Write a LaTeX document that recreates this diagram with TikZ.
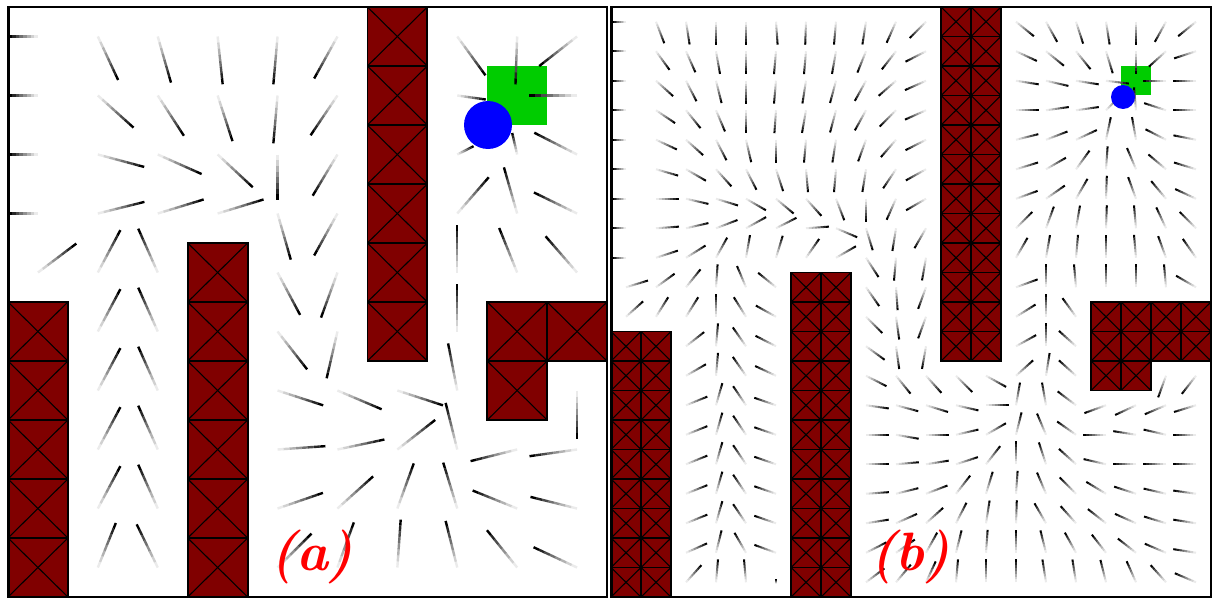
\documentclass[tikz,border=0pt]{standalone}
\definecolor{obsred}{RGB}{128,0,0}
\definecolor{goalgreen}{RGB}{0,204,0}
\definecolor{agentblue}{RGB}{0,0,255}
\definecolor{labelred}{RGB}{255,0,0}
\tikzset{
  obsx/.style={draw=black, line width=1.1pt},
  obsedge/.style={draw=black, line width=1.5pt},
  obsgroup/.style={draw=black, line width=1.8pt},
  panelframe/.style={draw=black, line width=2pt},
  goalbox/.style={fill=goalgreen},
  agentdot/.style={fill=agentblue},
  lab/.style={text=labelred, font=\fontsize{54}{54}\selectfont\bfseries\itshape, inner sep=0pt},
}
% gradient line: x, y, angle (math convention), length, width
\newcommand\gline[5]{%
  \pgfmathsetmacro\gdx{#4*cos(#3)/8}%
  \pgfmathsetmacro\gdy{-#4*sin(#3)/8}%
  \foreach \k in {1,...,8}{%
    \pgfmathtruncatemacro\gc{100*(\k/8)^1.2}%
    \draw[line width=#5, draw=black!\gc] ({#1+(\k-1)*\gdx},{#2+(\k-1)*\gdy}) -- ++(\gdx,\gdy);}}
% obstacle cell: x, y, w, h
\newcommand\obsbox[4]{%
  \fill[obsred] (#1,#2) rectangle ++(#3,#4);
  \draw[obsx] (#1,#2) -- ++(#3,#4);
  \draw[obsx] (#1,#2) ++(#3,0) -- ++(-#3,#4);
  \draw[obsedge] (#1,#2) rectangle ++(#3,#4);}
\begin{document}
\begin{tikzpicture}[x=1pt,y=-1pt]
\useasboundingbox (0,0) rectangle (1217,599);
\fill[white] (0,0) rectangle (1217,599);
% ---------------- panel (a) ----------------
\fill[goalbox] (487.2,66) rectangle (547.1,125);
\foreach \row [count=\j from 0] in {
 {180/0.62,-65/1,-74/1,-84/1,-95/1,-119/1,999/0,-54/1,-92/1,-142/1},
 {180/0.62,-42/1,-57/1,-72/1,-95/1,-124/1,999/0,-8/0.6,999/0,180/1},
 {180/0.62,-15/1,-24/1,-43/1,-90/0.95,-121/1,999/0,27/0.38,103/0.46,153/1},
 {180/0.62,14/1,17/1,17/1,-74/1,-119/1,999/0,49/1,106/1,154/1},
 {37/1,62/1,114/1,999/0,-62/1,-110/1,999/0,90/1,112/1,131/1},
 {999/0,62/1,114/1,999/0,-52/1,-103/1,999/0,90/1,999/0,999/0},
 {999/0,62/1,114/1,999/0,-18/1,-23/1,-18/1,101/1,999/0,-90/1},
 {999/0,62/1,114/1,999/0,4/1,12/1,38/1,104/1,-166/1,-172/1},
 {999/0,62/1,114/1,999/0,19/1,42/1,70/1,107/1,158/1,166/1},
 {999/0,68/1,116/1,999/0,45/1,70/1,86/1,104/1,129/1,155/1}} {
  \foreach \ang/\lf [count=\i from 0] in \row {
    \ifnum\ang<900
      \pgfmathsetmacro\cx{8+59.9*(\i+0.5)}%
      \pgfmathsetmacro\cy{7+59*(\j+0.5)}%
      \pgfmathsetmacro\ll{48*\lf}%
      \gline{\cx}{\cy}{\ang}{\ll}{2.4pt}%
    \fi
  }
}
\fill[agentdot] (488,125) circle (24);
% obstacles (a)
\foreach \j in {0,...,5}{\pgfmathsetmacro\yy{7+59*\j}\obsbox{367.4}{\yy}{59.9}{59}}
\foreach \j in {4,...,9}{\pgfmathsetmacro\yy{7+59*\j}\obsbox{187.7}{\yy}{59.9}{59}}
\foreach \j in {5,...,9}{\pgfmathsetmacro\yy{7+59*\j}\obsbox{8}{\yy}{59.9}{59}}
\obsbox{487.2}{302}{59.9}{59}
\obsbox{547.1}{302}{59.9}{59}
\obsbox{487.2}{361}{59.9}{59}
\draw[obsgroup] (367.4,7) rectangle (427.3,361);
\draw[obsgroup] (187.7,243) rectangle (247.6,597);
\draw[obsgroup] (8,302) rectangle (67.9,597);
\draw[obsgroup] (487.2,302) -- (607,302) -- (607,361) -- (547.1,361) -- (547.1,420) -- (487.2,420) -- cycle;
\draw[panelframe] (8,7) rectangle (607,597);
\draw[black, line width=3pt] (8.5,7) -- (8.5,597);
% ---------------- panel (b) ----------------
\fill[goalbox] (1121,66) rectangle (1151,95.5);
\foreach \row [count=\j from 0] in {
 {180,-69,-81,-90,-90,-86,-92,-95,-99,-114,-135,999,999,-39,-61,-72,-81,-90,-119,-141},
 {180,-54,-66,-80,-90,-95,-95,-100,-112,-128,-153,999,999,-25,-39,-51,-73,-90,-138,-162},
 {180,-42,-63,-76,-90,-95,-99,-105,-119,-139,-156,999,999,-9,-13,-9,-7,999,180,180},
 {180,-34,-51,-67,-90,-94,-100,-105,-119,-135,-156,999,999,0,8,8,45,95,162,180},
 {180,-25,-42,-63,-77,-90,-95,-99,-110,-131,-153,999,999,14,21,25,78,100,153,169},
 {180,-16,-30,-48,-63,-72,-85,-95,-99,-124,-151,999,999,17,30,54,86,113,140,163},
 {180,0,-13,-17,-30,-40,-48,-69,-90,-114,-150,999,999,20,35,60,88,110,130,155},
 {180,4,13,21,29,27,4,-23,-73,-99,-120,999,999,45,70,80,88,95,115,135},
 {180,18,32,61,80,73,55,30,-57,-95,-100,999,999,60,80,85,90,95,110,125},
 {17,36,51,86,113,141,999,999,-55,-86,-110,999,999,20,90,95,90,90,95,150},
 {42,58,58,90,122,151,999,999,-45,-82,-110,999,999,32,90,126,999,999,999,999},
 {999,999,38,85,125,153,999,999,-36,-82,-100,999,999,29,90,138,999,999,999,999},
 {999,999,30,85,125,155,999,999,-27,-51,-48,-45,-29,42,81,138,999,999,-110,-128},
 {999,999,22,74,124,161,999,999,-8,-15,-17,-13,0,80,100,143,-160,-155,-157,-163},
 {999,999,22,74,124,161,999,999,0,-10,0,13,30,76,113,145,180,171,167,180},
 {999,999,22,74,124,161,999,999,0,5,9,18,52,90,108,138,167,180,180,180},
 {999,999,22,74,124,161,999,999,4,14,21,52,73,86,113,135,149,162,167,172},
 {999,999,22,74,124,161,999,999,9,24,42,63,81,88,120,132,142,156,163,171},
 {999,999,24,76,120,160,999,999,27,35,61,76,86,90,104,119,128,142,157,171},
 {999,999,48,85,95,999,999,999,37,50,65,85,90,90,99,99,104,114,132,157}} {
  \foreach \ang [count=\i from 0] in \row {
    \ifnum\ang<900
      \pgfmathsetmacro\cx{611+30*(\i+0.5)}%
      \pgfmathsetmacro\cy{7+29.5*(\j+0.5)}%
      \ifnum\i=0 \ifnum\ang=180 \def\ll{14}\else\def\ll{23}\fi\else\def\ll{23}\fi
      \gline{\cx}{\cy}{\ang}{\ll}{2pt}%
    \fi
  }
}
\gline{776}{583}{90}{4}{2pt}
\fill[agentdot] (1123,97) circle (12);
% obstacles (b)
\foreach \i in {11,12}{\foreach \j in {0,...,11}{%
  \pgfmathsetmacro\xx{611+30*\i}\pgfmathsetmacro\yy{7+29.5*\j}\obsbox{\xx}{\yy}{30}{29.5}}}
\foreach \i in {6,7}{\foreach \j in {9,...,19}{%
  \pgfmathsetmacro\xx{611+30*\i}\pgfmathsetmacro\yy{7+29.5*\j}\obsbox{\xx}{\yy}{30}{29.5}}}
\foreach \i in {0,1}{\foreach \j in {11,...,19}{%
  \pgfmathsetmacro\xx{611+30*\i}\pgfmathsetmacro\yy{7+29.5*\j}\obsbox{\xx}{\yy}{30}{29.5}}}
\foreach \i in {16,...,19}{\foreach \j in {10,11}{%
  \pgfmathsetmacro\xx{611+30*\i}\pgfmathsetmacro\yy{7+29.5*\j}\obsbox{\xx}{\yy}{30}{29.5}}}
\foreach \i in {16,17}{%
  \pgfmathsetmacro\xx{611+30*\i}\obsbox{\xx}{361}{30}{29.5}}
\draw[obsgroup] (941,7) rectangle (1001,361);
\draw[obsgroup] (791,272.5) rectangle (851,597);
\draw[obsgroup] (611,331.5) rectangle (671,597);
\draw[obsgroup] (1091,302) -- (1211,302) -- (1211,361) -- (1151,361) -- (1151,390.5) -- (1091,390.5) -- cycle;
\draw[panelframe] (611,7) rectangle (1211,597);
\draw[black, line width=3pt] (611,7) -- (611,597);
% labels
\node[lab] (la) at (312,557) {(a)};
\node[lab] (lb) at (910,557) {(b)};
\end{tikzpicture}
\end{document}
